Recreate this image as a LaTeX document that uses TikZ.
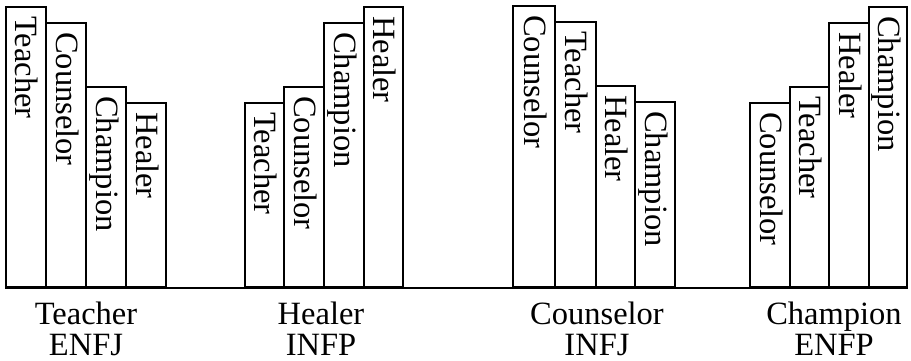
\documentclass[tikz,border=0pt]{standalone}
\usepackage{fontspec}
\setmainfont{Liberation Serif}
\begin{document}
\begin{tikzpicture}[x=1pt,y=-1pt,
  bar/.style={draw, line width=1.1pt},
  barlabel/.style={rotate=-90, anchor=base west, inner sep=0pt, font=\fontsize{32.5}{32.5}\selectfont},
  caption/.style={anchor=base, inner sep=0pt, font=\fontsize{32.5}{32.5}\selectfont},
  baseline rule/.style={line width=2pt}]
\useasboundingbox (0,0) rectangle (911,361);
% bars: left/right/top/label/name
\foreach \l/\r/\t/\txt/\n in {
  6/46/7/Teacher/aA, 46/86/23/Counselor/aB, 86/126/87/Champion/aC, 126/166/103/Healer/aD,
  245/284/103/Teacher/bA, 284/324/87/Counselor/bB, 324/364/23/Champion/bC, 364/403/7/Healer/bD,
  513/555/6/Counselor/cA, 555/596/22/Teacher/cB, 596/635/86/Healer/cC, 635/675/102/Champion/cD,
  750/790/103/Counselor/dA, 790/829/87/Teacher/dB, 829/869/23/Healer/dC, 869/907/7/Champion/dD}
{
  \draw[bar] (\l,287) rectangle (\r,\t);
  \node[barlabel] (\n) at ({(\l+\r)/2-10}, \t+9) {\txt};
}
\coordinate (bl) at (5,288);
\coordinate (br) at (908,288);
\draw[baseline rule] (bl) -- (br);
% captions
\node[caption] (t1) at (86,324) {Teacher};
\node[caption] (k1) at (86,355) {ENFJ};
\node[caption] (t2) at (321,324) {Healer};
\node[caption] (k2) at (321,355) {INFP};
\node[caption] (t3) at (597,324) {Counselor};
\node[caption] (k3) at (597,355) {INFJ};
\node[caption] (t4) at (834,324) {Champion};
\node[caption] (k4) at (834,355) {ENFP};
\end{tikzpicture}
\end{document}
